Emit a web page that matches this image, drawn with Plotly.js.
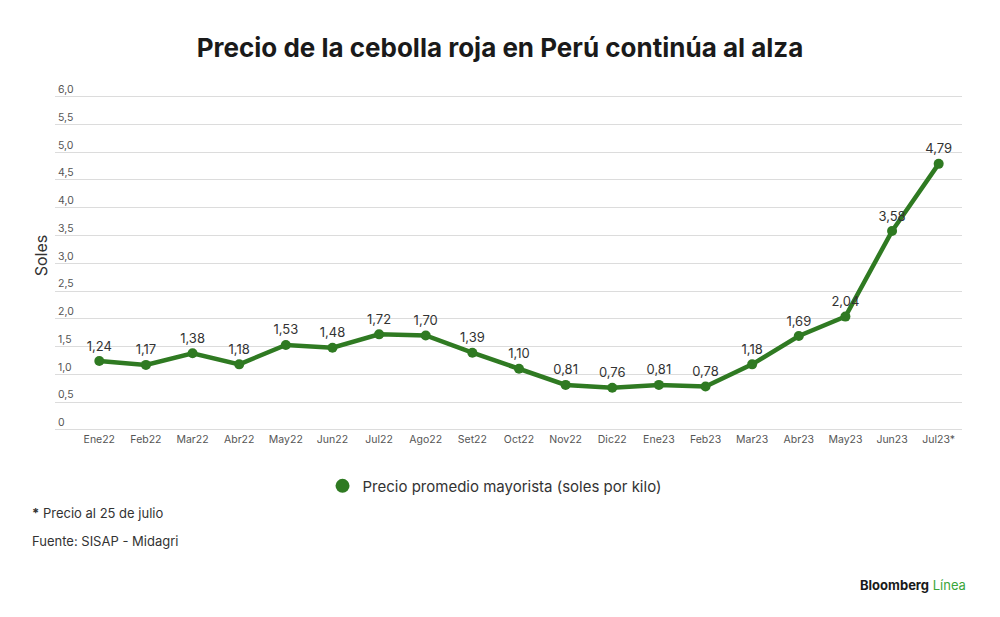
<!DOCTYPE html>
<html>
<head>
<meta charset="utf-8">
<script src="https://cdn.plot.ly/plotly-3.0.1.min.js"></script>
<style>html,body{margin:0;padding:0;background:#fff;}#chart{width:1000px;height:617px;}</style>
</head>
<body>
<div id="chart"></div>
<script>
const months = ["Ene22","Feb22","Mar22","Abr22","May22","Jun22","Jul22","Ago22","Set22","Oct22","Nov22","Dic22","Ene23","Feb23","Mar23","Abr23","May23","Jun23","Jul23*"];
const prices = [1.24,1.17,1.38,1.18,1.53,1.48,1.72,1.70,1.39,1.10,0.81,0.76,0.81,0.78,1.18,1.69,2.04,3.58,4.79];
const yTickVals = [0,0.5,1,1.5,2,2.5,3,3.5,4,4.5,5,5.5,6];
const yTickText = ["0","0,5","1,0","1,5","2,0","2,5","3,0","3,5","4,0","4,5","5,0","5,5","6,0"];
const seriesName = "Precio promedio mayorista (soles por kilo)";
const green = "#2f7a22";
const font = "Inter, 'Liberation Sans', sans-serif";

const main = {
  x: months, y: prices, type: "scatter", mode: "lines+markers+text",
  line: {color: green, width: 4.5},
  marker: {color: green, size: 10},
  text: prices.map(v => v.toFixed(2).replace(".", ",")),
  textposition: "top center",
  textfont: {family: font, size: 13, color: "#333"},
  showlegend: false, cliponaxis: false, hoverinfo: "x+y"
};
const legendTrace = {
  x: [null], y: [null], type: "scatter", mode: "markers",
  name: seriesName, marker: {color: green, size: 14}, showlegend: true
};

const layout = {
  width: 1000, height: 617,
  margin: {l: 55, r: 38, t: 80, b: 186},
  paper_bgcolor: "#fff", plot_bgcolor: "#fff",
  separators: ",.",
  font: {family: font, color: "#333"},
  title: {text: "<b>Precio de la cebolla roja en Perú continúa al alza</b>", x: 0.5, xanchor: "center", y: 0.923, yanchor: "middle",
          font: {family: font, size: 26, color: "#1a1a1a", weight: 800}},
  xaxis: {type: "category", range: [-0.95, 18.5], showgrid: false, zeroline: false, showline: false,
          ticks: "", tickfont: {size: 10.5, color: "#555"}, fixedrange: true},
  yaxis: {range: [-0.02, 6.3], tickvals: yTickVals, ticktext: yTickText, ticklabelposition: "inside top",
          showgrid: true, gridcolor: "#dcdcdc", gridwidth: 1, zeroline: false, showline: false,
          tickfont: {size: 10.5, color: "#555"},
          title: {text: "Soles", font: {size: 16, color: "#333"}, standoff: 6}},
  legend: {orientation: "h", x: 0.4846, xanchor: "center", y: -0.157, yanchor: "middle",
           font: {size: 15, color: "#333"}},
  annotations: [
    {text: "<b>*</b> Precio al 25 de julio", xref: "paper", yref: "paper", x: -0.0276, y: -0.234, xanchor: "left", yanchor: "middle", showarrow: false, font: {size: 13, color: "#333"}},
    {text: "Fuente: SISAP - Midagri", xref: "paper", yref: "paper", x: -0.0276, y: -0.314, xanchor: "left", yanchor: "middle", showarrow: false, font: {size: 13, color: "#333"}},
    {text: "<b>Bloomberg</b> <span style='color:#3aa63a'>Línea</span>", xref: "paper", yref: "paper", x: 1.0066, y: -0.44, xanchor: "right", yanchor: "middle", showarrow: false, font: {size: 13, color: "#1a1a1a"}}
  ]
};
Plotly.newPlot("chart", [main, legendTrace], layout, {displayModeBar: false, staticPlot: true});
</script>
</body>
</html>
